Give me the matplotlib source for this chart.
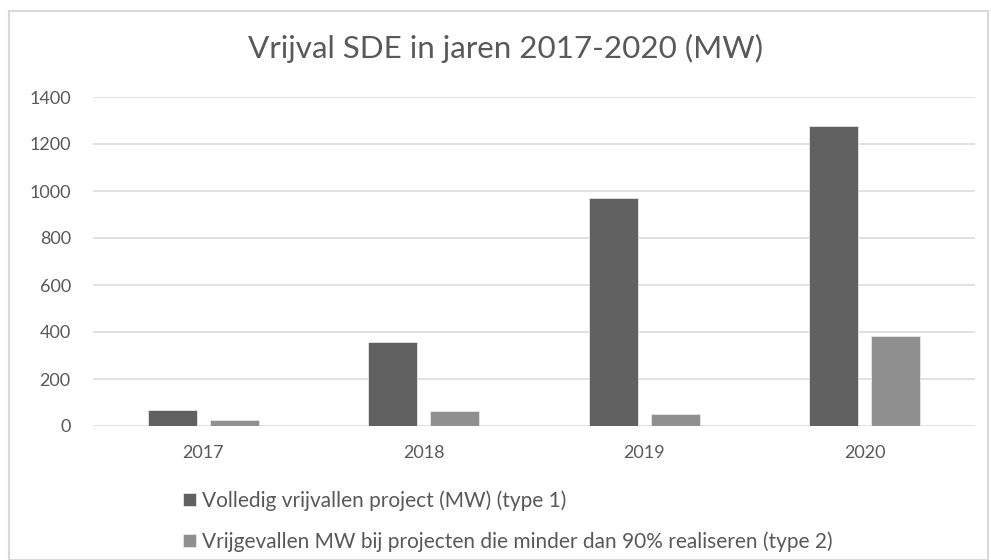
import matplotlib
matplotlib.use("Agg")
import matplotlib.pyplot as plt
from matplotlib.patches import Rectangle
import numpy as np

years = ["2017", "2018", "2019", "2020"]
type1 = [70, 357, 969, 1278]
type2 = [27, 64, 50, 382]
label1 = "Volledig vrijvallen project (MW) (type 1)"
label2 = "Vrijgevallen MW bij projecten die minder dan 90% realiseren (type 2)"
title = "Vrijval SDE in jaren 2017-2020 (MW)"
yticks = [0, 200, 400, 600, 800, 1000, 1200, 1400]

plt.rcParams['font.family'] = ['Lato', 'DejaVu Sans']
txt = "#595959"
c1 = "#606060"
c2 = "#8f8f8f"
grid = "#d9d9d9"

fig = plt.figure(figsize=(9.91, 5.6), dpi=100)
fig.patches.append(Rectangle((9/991, 0), 979/991, 1 - 11/560, transform=fig.transFigure,
                             fill=False, edgecolor=grid, linewidth=1.5))
ax = fig.add_axes([93/991, 1 - 426/560, 882/991, 329/560])
x = np.arange(len(years))
w = 0.222
ax.bar(x - 0.141, type1, w, color=c1, edgecolor="#e8e8e8", linewidth=0.6, label=label1, zorder=3)
ax.bar(x + 0.141, type2, w, color=c2, edgecolor="#e8e8e8", linewidth=0.6, label=label2, zorder=3)
ax.set_xlim(-0.5, 3.5)
ax.set_ylim(0, 1400)
ax.set_yticks(yticks)
ax.set_xticks(x)
ax.set_xticklabels(years)
ax.grid(axis='y', color=grid, linewidth=1.1, zorder=0)
for s in ax.spines.values():
    s.set_visible(False)
ax.tick_params(axis='both', length=0, colors=txt, labelsize=13)
ax.tick_params(axis='y', pad=16)
ax.tick_params(axis='x', pad=14)
fig.text(505/991, 1 - 48/560, title, ha='center', va='center', fontsize=22.6, color=txt)
leg = fig.legend(loc='upper left', bbox_to_anchor=(183/991, 1 - 490/560), frameon=False,
                 fontsize=15, labelcolor=txt, handlelength=0.6, handleheight=0.6,
                 handletextpad=0.3, labelspacing=1.0, borderaxespad=0, borderpad=0)
fig.savefig("out.png", dpi=100, facecolor="white")
